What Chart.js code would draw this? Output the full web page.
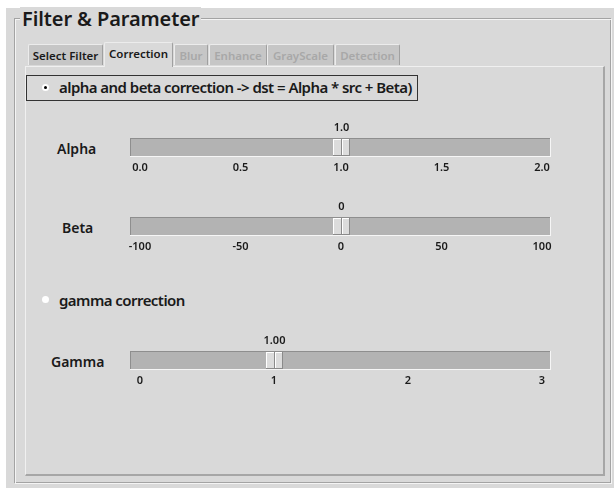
<!DOCTYPE html>
<html lang="en">
<head>
    <meta charset="UTF-8">
    <title>Filter &amp; Parameter</title>
    <script src="https://cdn.jsdelivr.net/npm/chart.js"></script>
    <style>
        body {
            margin: 0;
            width: 614px;
            height: 488px;
            background: #fff;
            font-family: "Noto Sans", sans-serif;
            overflow: hidden;
            position: relative;
        }
        .abs { position: absolute; }
        #win {
            left: 6px; top: 8px; width: 608px; height: 480px;
            background: #d9d9d9;
        }
        .groove-a { border: 1px solid #a3a3a3; }
        .groove-b { border: 1px solid #f4f4f4; }
        .title {
            left: 20px; top: 7px; padding: 0 2px;
            background: #d9d9d9;
            font-size: 20px; font-weight: 600; line-height: 24px;
            letter-spacing: -0.1px;
            color: #1a1a1a;
        }
        .tab {
            top: 44px; height: 21px;
            background: #c6c6c6;
            border-top: 1px solid #ececec;
            border-left: 1px solid #ececec;
            border-right: 1px solid #a0a0a0;
            border-radius: 2px 2px 0 0;
            font-size: 11.5px; font-weight: 600; line-height: 21px;
            text-align: center;
            color: #a8a8a8;
            box-sizing: border-box;
        }
        .tab.on { color: #1a1a1a; }
        .tab.sel { top: 42px; height: 25px; background: #d9d9d9; z-index: 2; }
        #pane {
            left: 25px; top: 66px; width: 577px; height: 407px;
            border-top: 1px solid #f0f0f0;
            border-left: 1px solid #f0f0f0;
            border-right: 2px solid #a6a6a6;
            border-bottom: 2px solid #a6a6a6;
            background: #d9d9d9;
        }
        #radioBox {
            left: 26px; top: 75px; width: 390px; height: 24px;
            border: 1px solid #333;
        }
        .radio {
            width: 7px; height: 7px; border-radius: 50%;
            background: #fff;
        }
        .dot {
            left: 2px; top: 2px; width: 3px; height: 3px; border-radius: 50%;
            background: #000;
        }
        .rtext {
            font-size: 15px; font-weight: 600; color: #1a1a1a; white-space: nowrap;
            letter-spacing: -0.55px;
        }
        .slabel {
            font-size: 14px; font-weight: 600; color: #1a1a1a;
        }
        canvas.slider { position: absolute; left: 110px; }
    </style>
</head>
<body>
    <div id="win" class="abs"></div>
    <div class="abs groove-a" style="left:14px;top:18px;width:595px;height:463px;"></div>
    <div class="abs groove-b" style="left:15px;top:19px;width:595px;height:463px;"></div>
    <div class="abs title">Filter &amp; Parameter</div>

    <div id="pane" class="abs"></div>
    <div class="abs tab on" style="left:28px;width:75px;">Select Filter</div>
    <div class="abs tab on sel" style="left:104px;width:69px;">Correction</div>
    <div class="abs tab" style="left:174px;width:34px;">Blur</div>
    <div class="abs tab" style="left:209px;width:58px;">Enhance</div>
    <div class="abs tab" style="left:267px;width:67px;">GrayScale</div>
    <div class="abs tab" style="left:335px;width:65px;">Detection</div>

    <div id="radioBox" class="abs"></div>
    <div class="abs radio" style="left:42px;top:84px;"><div class="abs dot"></div></div>
    <div class="abs rtext" style="left:59px;top:77px;">alpha and beta correction -&gt; dst = Alpha * src + Beta)</div>

    <div class="abs slabel" style="left:57px;top:139px;">Alpha</div>
    <div class="abs slabel" style="left:62px;top:218px;">Beta</div>

    <div class="abs radio" style="left:42px;top:296px;"></div>
    <div class="abs rtext" style="left:59px;top:290px;">gamma correction</div>

    <div class="abs slabel" style="left:51px;top:352px;">Gamma</div>

    <canvas id="alphaChart" class="slider" width="470" height="61" style="top:116px;"></canvas>
    <canvas id="betaChart" class="slider" width="470" height="61" style="top:195px;"></canvas>
    <canvas id="gammaChart" class="slider" width="470" height="61" style="top:329px;"></canvas>

    <script>
        // slider scales
        const alphaTicks = [0, 0.5, 1, 1.5, 2];
        const betaTicks = [-100, -50, 0, 50, 100];
        const gammaTicks = [0, 1, 2, 3];
        // current values + the label shown above the handle
        const alphaValue = 1.0;
        const betaValue = 0;
        const gammaValue = 1.0;
        const alphaLabel = '1.0';
        const betaLabel = '0';
        const gammaLabel = '1.00';

        const tickFont = { family: 'Noto Sans', size: 11, weight: '600' };

        // track behind the point, handle on top of it
        const sliderPlugin = {
            id: 'slider',
            beforeDatasetsDraw(chart) {
                const ctx = chart.ctx;
                const xs = chart.scales.x;
                const a = chart.chartArea;
                const x0 = xs.getPixelForValue(xs.min) - 10;
                const x1 = xs.getPixelForValue(xs.max) + 9;
                ctx.save();
                ctx.fillStyle = '#b3b3b3';
                ctx.fillRect(x0, a.top, x1 - x0, a.bottom - a.top);
                ctx.fillStyle = '#8e8e8e';
                ctx.fillRect(x0, a.top, x1 - x0, 1);
                ctx.fillRect(x0, a.top, 1, a.bottom - a.top);
                ctx.fillStyle = '#f6f6f6';
                ctx.fillRect(x0, a.bottom - 1, x1 - x0, 1);
                ctx.fillRect(x1 - 1, a.top, 1, a.bottom - a.top);
                ctx.restore();
            },
            afterDatasetsDraw(chart, args, opts) {
                const ctx = chart.ctx;
                const a = chart.chartArea;
                const pt = chart.getDatasetMeta(0).data[0];
                const cx = Math.round(pt.x);
                const hx = cx - 8, hw = 17;
                const hy = a.top + 1, hh = a.bottom - a.top - 2;
                ctx.save();
                ctx.fillStyle = '#dcdcdc';
                ctx.fillRect(hx, hy, hw, hh);
                ctx.fillStyle = '#ffffff';
                ctx.fillRect(hx, hy, hw, 1);
                ctx.fillRect(hx, hy, 1, hh);
                ctx.fillRect(cx + 1, hy, 1, hh);
                ctx.fillStyle = '#8a8a8a';
                ctx.fillRect(hx, hy + hh - 1, hw, 1);
                ctx.fillRect(hx + hw - 1, hy, 1, hh);
                ctx.fillRect(cx, hy, 1, hh);
                ctx.fillStyle = '#1a1a1a';
                ctx.font = '600 11px "Noto Sans"';
                ctx.textAlign = 'center';
                ctx.textBaseline = 'middle';
                ctx.fillText(opts.label, cx + 0.5, a.top - 10);
                ctx.restore();
            }
        };

        const createSlider = (id, ticks, value, label, decimals) => {
            const ctx = document.getElementById(id).getContext('2d');
            new Chart(ctx, {
                type: 'scatter',
                data: {
                    datasets: [{
                        data: [{ x: value, y: 0 }],
                        pointRadius: 0,
                        pointHoverRadius: 0
                    }]
                },
                options: {
                    responsive: false,
                    animation: false,
                    events: [],
                    layout: { padding: { top: 22, left: 30, right: 38, bottom: 0 } },
                    plugins: {
                        legend: { display: false },
                        tooltip: { enabled: false },
                        slider: { label: label }
                    },
                    scales: {
                        x: {
                            type: 'linear',
                            min: ticks[0],
                            max: ticks[ticks.length - 1],
                            afterBuildTicks: s => { s.ticks = ticks.map(v => ({ value: v })); },
                            afterFit: s => { s.height = 20; },
                            ticks: {
                                callback: v => Number(v).toFixed(decimals),
                                color: '#1a1a1a',
                                font: tickFont,
                                padding: 4,
                                maxRotation: 0,
                                autoSkip: false
                            },
                            grid: { display: false, drawTicks: false },
                            border: { display: false }
                        },
                        y: { display: false, min: -1, max: 1 }
                    }
                },
                plugins: [sliderPlugin]
            });
        };

        createSlider('alphaChart', alphaTicks, alphaValue, alphaLabel, 1);
        createSlider('betaChart', betaTicks, betaValue, betaLabel, 0);
        createSlider('gammaChart', gammaTicks, gammaValue, gammaLabel, 0);
    </script>
</body>
</html>
